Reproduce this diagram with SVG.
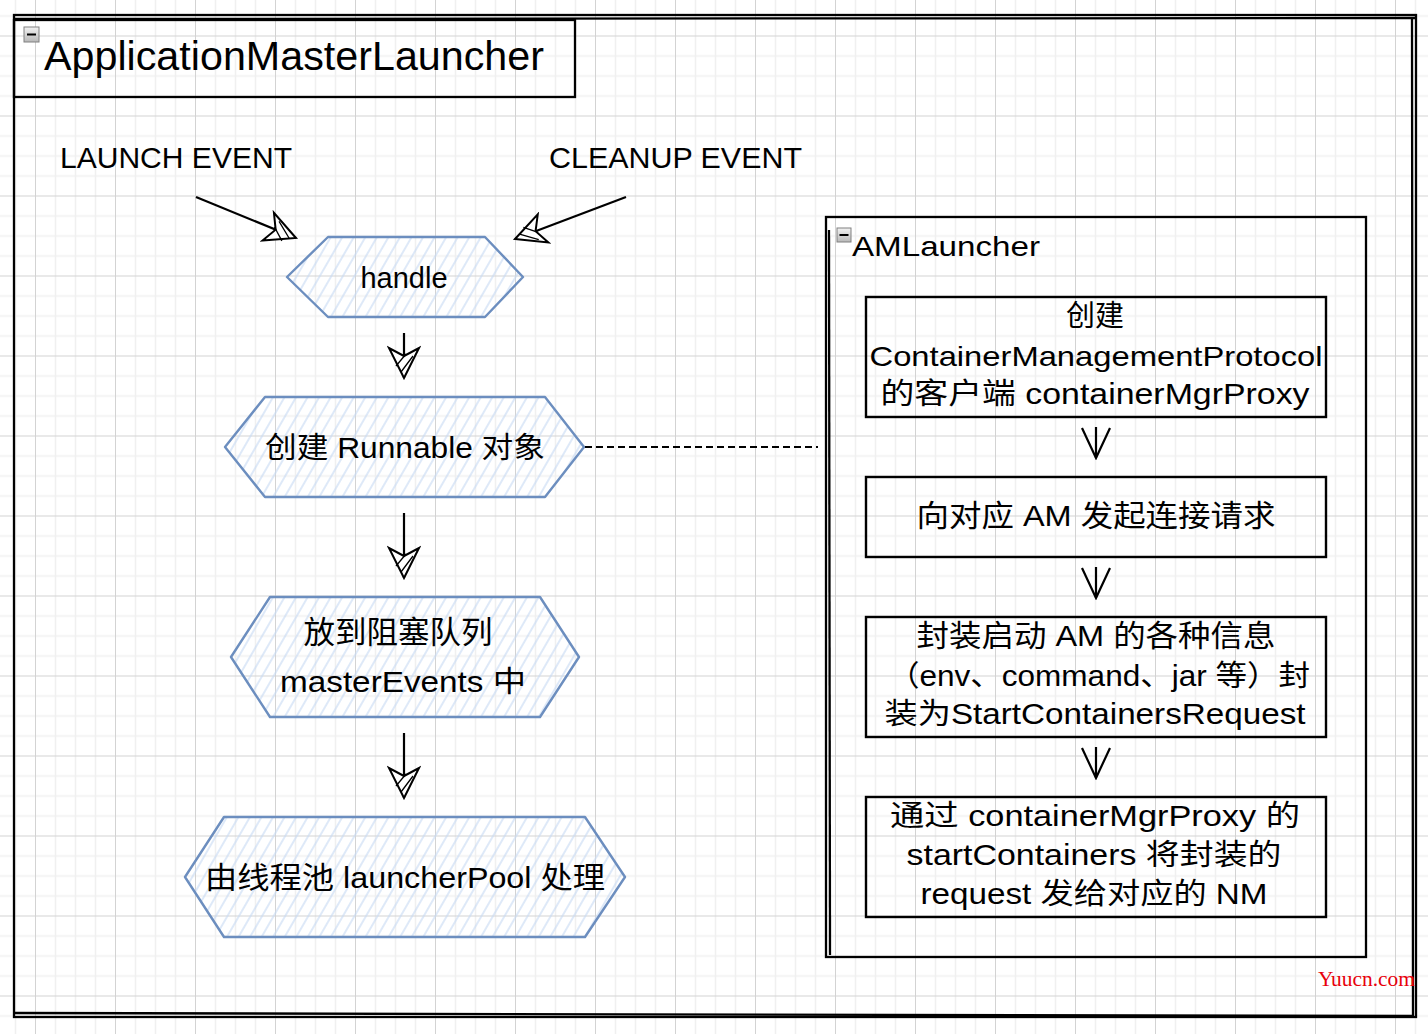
<svg xmlns="http://www.w3.org/2000/svg" width="1428" height="1034" viewBox="0 0 1428 1034">
<defs>
<pattern id="grid" patternUnits="userSpaceOnUse" x="35" y="35.5" width="80" height="80">
<path d="M20.5 0V80M40.5 0V80M60.5 0V80M0 20.5H80M0 40.5H80M0 60.5H80" stroke="#f0f0f0" stroke-width="1.5" fill="none"/>
<path d="M0.5 0V80M0 0.5H80" stroke="#d3d3d3" stroke-width="1" fill="none"/>
</pattern>
<pattern id="hatch" patternUnits="userSpaceOnUse" width="10" height="10" patternTransform="rotate(30)">
<line x1="5" y1="0" x2="5" y2="10" stroke="#c8daf3" stroke-width="1.2"/>
</pattern>
<linearGradient id="icon" x1="0" y1="0" x2="0" y2="1">
<stop offset="0" stop-color="#f2f2f2"/><stop offset="1" stop-color="#b8b8b8"/>
</linearGradient>
<marker id="blk" markerUnits="userSpaceOnUse" viewBox="-33 -17 35 34" markerWidth="35" markerHeight="34" refX="0" refY="0" orient="auto">
<path d="M0 0L-30 -15L-22 0L-30 15Z" fill="#fff" stroke="#000" stroke-width="2" stroke-linejoin="miter"/>
<path d="M-6 3L-22 -9M-12 8L-24 -2" stroke="#000" stroke-width="1.3" fill="none"/>
</marker>
<marker id="vee" markerUnits="userSpaceOnUse" viewBox="-32 -17 34 34" markerWidth="34" markerHeight="34" refX="0" refY="0" orient="auto">
<path d="M-30 -14L0 0L-30 14" fill="none" stroke="#000" stroke-width="2.2"/>
</marker>
<style>
.lbl{font-family:"Liberation Sans","Noto Sans CJK SC",sans-serif;fill:#000}
.hex{fill:url(#hatch);stroke:#6c8ebf;stroke-width:2.4;stroke-linejoin:round}
.box{fill:none;stroke:#000;stroke-width:2.4}
.frame{fill:none;stroke:#000;stroke-width:2.3}
.conn{stroke:#000;stroke-width:2.2;fill:none}
.c{text-anchor:middle}
</style>
</defs>
<rect width="1428" height="1034" fill="#fff"/>
<rect width="1428" height="1034" fill="url(#grid)"/>

<g id="ApplicationMasterLauncher">
<rect class="frame" x="14" y="15" width="1402" height="1002"/>
<path class="frame" d="M15 19L1416 18M14 1013L1412 1016M1412 19L1413 1017" stroke-width="1.2"/>
<rect class="frame" x="14" y="20" width="561" height="77"/>
<rect x="24" y="27" width="15" height="15" fill="url(#icon)" stroke="#808080" stroke-width="1"/>
<path d="M27 34.5H36" stroke="#000" stroke-width="2"/>
<text class="lbl" x="44" y="70" font-size="41" textLength="500" lengthAdjust="spacingAndGlyphs">ApplicationMasterLauncher</text>
</g>

<g id="launch-event"><text class="lbl" x="60" y="168" font-size="29" textLength="232" lengthAdjust="spacingAndGlyphs">LAUNCH EVENT</text></g>
<g id="cleanup-event"><text class="lbl" x="549" y="168" font-size="29" textLength="253" lengthAdjust="spacingAndGlyphs">CLEANUP EVENT</text></g>

<g id="handle">
<polygon class="hex" points="287,277 328,237 485,237 523,277 485,317 328,317"/>
<text class="lbl c" x="404" y="288" font-size="29" textLength="87" lengthAdjust="spacingAndGlyphs">handle</text>
</g>

<g id="create-runnable">
<polygon class="hex" points="225,447 265,397 545,397 584,447 545,497 265,497"/>
<text class="lbl c" x="405" y="458" font-size="29" textLength="280" lengthAdjust="spacingAndGlyphs">创建 Runnable 对象</text>
</g>

<g id="put-queue">
<polygon class="hex" points="231,657 270,597 540,597 579,657 540,717 270,717"/>
<text class="lbl c" x="398" y="643" font-size="31" textLength="189" lengthAdjust="spacingAndGlyphs">放到阻塞队列</text>
<text class="lbl c" x="403" y="692" font-size="29" textLength="246" lengthAdjust="spacingAndGlyphs">masterEvents 中</text>
</g>

<g id="launcher-pool">
<polygon class="hex" points="185,877 224,817 585,817 625,877 585,937 224,937"/>
<text class="lbl c" x="405" y="888" font-size="30" textLength="400" lengthAdjust="spacingAndGlyphs">由线程池 launcherPool 处理</text>
</g>

<g id="AMLauncher">
<rect class="frame" x="826" y="217" width="540" height="740"/>
<path class="frame" d="M829 230L830 955" stroke-width="1.2"/>
<rect x="837" y="228" width="14" height="14" fill="url(#icon)" stroke="#808080" stroke-width="1"/>
<path d="M839.5 235H848.5" stroke="#000" stroke-width="2"/>
<text class="lbl" x="852" y="256" font-size="28" textLength="188" lengthAdjust="spacingAndGlyphs">AMLauncher</text>
</g>

<g id="create-proxy">
<rect class="box" x="866" y="297" width="460" height="120"/>
<text class="lbl c" x="1095" y="326" font-size="29">创建</text>
<text class="lbl c" x="1096" y="366" font-size="28" textLength="453" lengthAdjust="spacingAndGlyphs">ContainerManagementProtocol</text>
<text class="lbl c" x="1095" y="404" font-size="29" textLength="429" lengthAdjust="spacingAndGlyphs">的客户端 containerMgrProxy</text>
</g>

<g id="connect-am">
<rect class="box" x="866" y="477" width="460" height="80"/>
<text class="lbl c" x="1096" y="526" font-size="30" textLength="359" lengthAdjust="spacingAndGlyphs">向对应 AM 发起连接请求</text>
</g>

<g id="wrap-request">
<rect class="box" x="866" y="617" width="460" height="120"/>
<text class="lbl c" x="1096" y="646" font-size="30" textLength="359" lengthAdjust="spacingAndGlyphs">封装启动 AM 的各种信息</text>
<text class="lbl c" x="1099" y="686" font-size="29" textLength="422" lengthAdjust="spacingAndGlyphs">（env、command、jar 等）封</text>
<text class="lbl c" x="1095" y="724" font-size="29" textLength="421" lengthAdjust="spacingAndGlyphs">装为StartContainersRequest</text>
</g>

<g id="send-nm">
<rect class="box" x="866" y="797" width="460" height="120"/>
<text class="lbl c" x="1095" y="826" font-size="29" textLength="410" lengthAdjust="spacingAndGlyphs">通过 containerMgrProxy 的</text>
<text class="lbl c" x="1094" y="865" font-size="29" textLength="375" lengthAdjust="spacingAndGlyphs">startContainers 将封装的</text>
<text class="lbl c" x="1094" y="904" font-size="29" textLength="347" lengthAdjust="spacingAndGlyphs">request 发给对应的 NM</text>
</g>

<g id="connectors">
<path class="conn" d="M196 197L296 238" marker-end="url(#blk)"/>
<path class="conn" d="M626 197L515 239" marker-end="url(#blk)"/>
<path class="conn" d="M404 333V378" marker-end="url(#blk)"/>
<path class="conn" d="M404 513V578" marker-end="url(#blk)"/>
<path class="conn" d="M404 733V798" marker-end="url(#blk)"/>
<path class="conn" d="M585 447H818" stroke-width="2.5" stroke-dasharray="7 4"/>
<path class="conn" d="M1096 427V458" marker-end="url(#vee)"/>
<path class="conn" d="M1096 567V598" marker-end="url(#vee)"/>
<path class="conn" d="M1096 747V778" marker-end="url(#vee)"/>
</g>

<text x="1318" y="986" font-family="'Liberation Serif',serif" font-size="20" fill="#e8000b" textLength="97" lengthAdjust="spacingAndGlyphs">Yuucn.com</text>
</svg>
